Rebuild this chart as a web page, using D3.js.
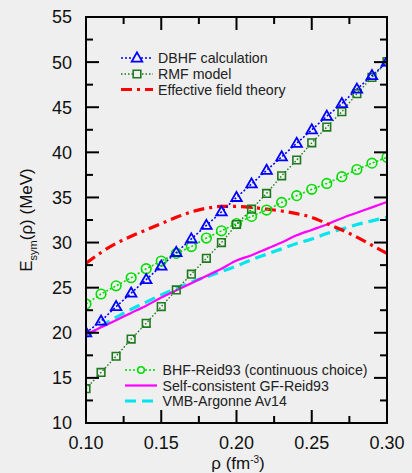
<!DOCTYPE html>
<html><head><meta charset="utf-8">
<script src="https://cdn.jsdelivr.net/npm/d3@7"></script>
<style>html,body{margin:0;padding:0;background:#efefef;}svg{display:block;}</style>
</head><body>
<svg id="c" width="412" height="473"></svg>
<script>
const rho = [0.10,0.11,0.12,0.13,0.14,0.15,0.16,0.17,0.18,0.19,0.20,0.21,0.22,0.23,0.24,0.25,0.26,0.27,0.28,0.29,0.30];
const dbhf = [20.0,21.3,22.9,24.4,25.9,27.4,28.9,30.4,31.9,33.4,35.0,36.5,38.0,39.5,41.0,42.5,44.0,45.4,47.0,48.5,50.0];
const rmf  = [13.8,15.6,17.4,19.3,21.05,22.9,24.75,26.5,28.25,30.0,32.0,33.7,35.45,37.4,39.15,41.05,42.8,44.5,46.5,48.3,50.05];
const bhf  = [23.2,24.3,25.2,26.1,27.1,27.95,28.8,29.55,30.5,31.3,32.1,32.9,33.6,34.45,35.2,35.9,36.55,37.3,38.1,38.8,39.45];
const eft  = [27.7,28.9,29.9,30.7,31.4,32.1,32.8,33.4,33.8,34.0,34.0,33.9,33.7,33.5,33.2,32.8,32.1,31.4,30.6,29.7,28.8];
const gf   = [19.8,20.6,21.4,22.2,23.0,23.9,24.7,25.5,26.3,27.1,28.0,28.6,29.3,30.0,30.8,31.4,32.0,32.7,33.3,33.9,34.5];
const vmb  = [19.6,20.7,21.7,22.6,23.4,24.2,24.9,25.6,26.2,26.8,27.4,28.1,28.7,29.3,29.9,30.4,31.0,31.5,32.0,32.4,32.8];
const xTicks = [0.10,0.15,0.20,0.25,0.30];
const xMinor = [0.125,0.175,0.225,0.275];
const yTicks = [10,15,20,25,30,35,40,45,50,55];
const yMinor = [12.5,17.5,22.5,27.5,32.5,37.5,42.5,47.5,52.5];
const legend1 = ["DBHF calculation","RMF model","Effective field theory"];
const legend2 = ["BHF-Reid93 (continuous choice)","Self-consistent GF-Reid93","VMB-Argonne Av14"];

const svg = d3.select("#c");
const L=86,R=387,T=17,B=423;
const x = d3.scaleLinear().domain([0.10,0.30]).range([L,R]);
const y = d3.scaleLinear().domain([10,55]).range([B,T]);
const font = "Liberation Sans, Arial, sans-serif";

svg.append("rect").attr("width",412).attr("height",473).attr("fill","#efefef");

const clip = svg.append("defs").append("clipPath").attr("id","pc");
clip.append("rect").attr("x",L).attr("y",T).attr("width",R-L).attr("height",B-T);
const g = svg.append("g").attr("clip-path","url(#pc)");

const line = d3.line().x((d,i)=>x(rho[i])).y(d=>y(d));
const smooth = d3.line().x((d,i)=>x(rho[i])).y(d=>y(d)).curve(d3.curveMonotoneX);

// series lines
g.append("path").datum(vmb).attr("d",smooth).attr("fill","none").attr("stroke","#00e5ee").attr("stroke-width",3.2).attr("stroke-dasharray","11,6");
g.append("path").datum(gf).attr("d",smooth).attr("fill","none").attr("stroke","#ff00ff").attr("stroke-width",2.2);
g.append("path").datum(eft).attr("d",smooth).attr("fill","none").attr("stroke","#ff0000").attr("stroke-width",3.2).attr("stroke-dasharray","11,5,3,5");
g.append("path").datum(bhf).attr("d",line).attr("fill","none").attr("stroke","#00dd00").attr("stroke-width",1.6).attr("stroke-dasharray","2,2");
g.append("path").datum(rmf).attr("d",line).attr("fill","none").attr("stroke","#1f7a1f").attr("stroke-width",1.4).attr("stroke-dasharray","1.5,2");
g.append("path").datum(dbhf).attr("d",line).attr("fill","none").attr("stroke","#0000ff").attr("stroke-width",1.6).attr("stroke-dasharray","2,2");

const tri = d3.symbol().type(d3.symbolTriangle).size(48);
const sq = d3.symbol().type(d3.symbolSquare).size(58);

g.selectAll(".c").data(bhf).enter().append("circle").attr("cx",(d,i)=>x(rho[i])).attr("cy",d=>y(d)).attr("r",4.8)
 .attr("fill","none").attr("stroke","#00dd00").attr("stroke-width",1.6);
g.selectAll(".s").data(rmf).enter().append("path").attr("d",sq).attr("transform",(d,i)=>`translate(${x(rho[i])},${y(d)})`)
 .attr("fill","none").attr("stroke","#1f7a1f").attr("stroke-width",1.6);
g.selectAll(".t").data(dbhf).enter().append("path").attr("d",tri).attr("transform",(d,i)=>`translate(${x(rho[i])},${y(d)+0.5})`)
 .attr("fill","none").attr("stroke","#0000ff").attr("stroke-width",1.8);

// frame and ticks
const ax = svg.append("g").attr("stroke","#000").attr("stroke-width",2);
xTicks.forEach(v=>{ax.append("line").attr("x1",x(v)).attr("x2",x(v)).attr("y1",B).attr("y2",B-13);
  ax.append("line").attr("x1",x(v)).attr("x2",x(v)).attr("y1",T).attr("y2",T+13);});
xMinor.forEach(v=>{ax.append("line").attr("x1",x(v)).attr("x2",x(v)).attr("y1",B).attr("y2",B-7);
  ax.append("line").attr("x1",x(v)).attr("x2",x(v)).attr("y1",T).attr("y2",T+7);});
yTicks.forEach(v=>{ax.append("line").attr("y1",y(v)).attr("y2",y(v)).attr("x1",L).attr("x2",L+13);
  ax.append("line").attr("y1",y(v)).attr("y2",y(v)).attr("x1",R).attr("x2",R-13);});
yMinor.forEach(v=>{ax.append("line").attr("y1",y(v)).attr("y2",y(v)).attr("x1",L).attr("x2",L+7);
  ax.append("line").attr("y1",y(v)).attr("y2",y(v)).attr("x1",R).attr("x2",R-7);});
svg.append("rect").attr("x",L).attr("y",T).attr("width",R-L).attr("height",B-T).attr("fill","none").attr("stroke","#000").attr("stroke-width",2);

// tick labels
svg.selectAll(".xl").data(xTicks).enter().append("text").attr("x",d=>x(d)).attr("y",449).attr("text-anchor","middle")
 .attr("font-family",font).attr("font-size",18).attr("fill","#111").text(d=>d.toFixed(2));
svg.selectAll(".yl").data(yTicks).enter().append("text").attr("x",72).attr("y",d=>y(d)).attr("dy","0.36em").attr("text-anchor","end")
 .attr("font-family",font).attr("font-size",18).attr("fill","#111").text(d=>d);

// axis titles
const xt = svg.append("text").attr("x",238).attr("y",469).attr("text-anchor","middle").attr("font-family",font).attr("font-size",17).attr("fill","#111");
xt.append("tspan").text("ρ (fm");
xt.append("tspan").attr("dy",-6).attr("font-size",10).text("-3");
xt.append("tspan").attr("dy",6).text(")");
const yt = svg.append("text").attr("transform","translate(32,220) rotate(-90)").attr("text-anchor","middle").attr("font-family",font).attr("font-size",17).attr("fill","#111");
yt.append("tspan").text("E");
yt.append("tspan").attr("dy",5).attr("font-size",11).text("sym");
yt.append("tspan").attr("dy",-5).text("(ρ) (MeV)");

// legend 1
const l1y=[58,74,89.5];
const lg = svg.append("g");
function sample(gx, x1, x2, yy, stroke, w, dash){
  gx.append("line").attr("x1",x1).attr("x2",x2).attr("y1",yy).attr("y2",yy).attr("stroke",stroke).attr("stroke-width",w).attr("stroke-dasharray",dash);
}
sample(lg,121,153,l1y[0],"#0000ff",1.6,"2,2");
lg.append("path").attr("d",tri).attr("transform",`translate(137,${l1y[0]+0.5})`).attr("fill","#efefef").attr("stroke","#0000ff").attr("stroke-width",1.8);
sample(lg,121,153,l1y[1],"#1f7a1f",1.4,"1.5,2");
lg.append("path").attr("d",sq).attr("transform",`translate(137,${l1y[1]})`).attr("fill","#efefef").attr("stroke","#1f7a1f").attr("stroke-width",1.6);
sample(lg,121,153,l1y[2],"#ff0000",3.2,"11,5,3,5");
lg.selectAll(".t1").data(legend1).enter().append("text").attr("x",158).attr("y",(d,i)=>l1y[i]).attr("dy","0.36em")
 .attr("font-family",font).attr("font-size",14.2).attr("fill","#222").text(d=>d);

// legend 2
const l2y=[370,385.5,401];
sample(lg,125,157,l2y[0],"#00dd00",1.6,"2,2");
lg.append("circle").attr("cx",141).attr("cy",l2y[0]).attr("r",3.3).attr("fill","#efefef").attr("stroke","#00dd00").attr("stroke-width",1.6);
sample(lg,125,157,l2y[1],"#ff00ff",2.2,null);
sample(lg,125,157,l2y[2],"#00e5ee",3.2,"11,6");
lg.selectAll(".t2").data(legend2).enter().append("text").attr("x",162.5).attr("y",(d,i)=>l2y[i]).attr("dy","0.36em")
 .attr("font-family",font).attr("font-size",14.2).attr("fill","#222").text(d=>d);
</script>
</body></html>
